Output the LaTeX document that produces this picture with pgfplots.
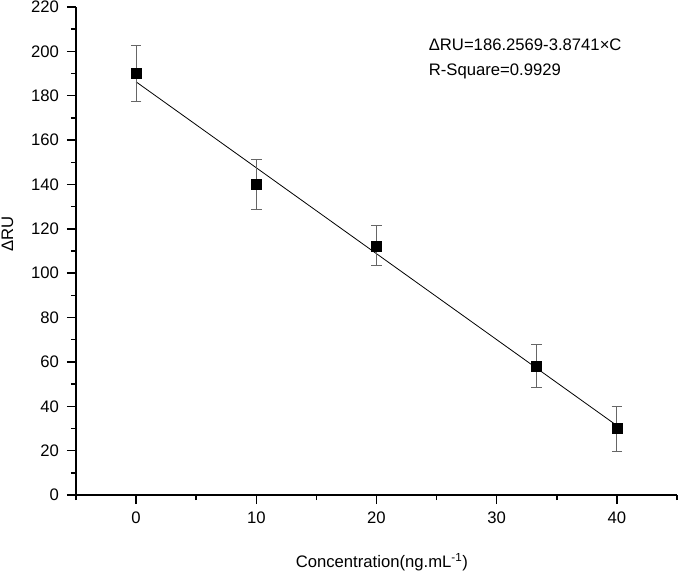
\documentclass[border=0pt]{standalone}
\usepackage{fontspec}
\setmainfont{Liberation Sans}
\usepackage{pgfplots}
\pgfplotsset{compat=1.18}

\begin{document}
\begin{tikzpicture}
\path[use as bounding box] (-57pt,-57pt) rectangle (451.5pt,371.25pt);
\begin{axis}[at={(0,0)},anchor=south west,scale only axis,width=450.75pt,height=366pt,
 xmin=-5,xmax=45,ymin=0,ymax=220,
 axis x line*=bottom,axis y line*=left,axis line style={-,line width=1.1pt},
 xtick={0,10,...,40},minor xtick={-5,5,...,45},
 ytick={0,20,...,220},minor ytick={10,30,...,210},
 tick align=outside,major tick length=6.75pt,minor tick length=3.75pt,
 tick style={black,line width=1.1pt},
 tick label style={font=\fontsize{12.5}{14}\selectfont},
 yticklabel style={xshift=-2.5pt},
 xticklabel style={yshift=-2.5pt},
 /pgf/number format/assume math mode=true,
 label style={font=\fontsize{12.5}{14}\selectfont},
 xlabel={Concentration(ng.mL\textsuperscript{-1})},
 ylabel={ΔRU},
 xlabel style={at={(axis description cs:0.509,-0.137)},anchor=center},
 ylabel style={at={(axis description cs:-0.114,0.535)},anchor=center},
 clip=false]
% linear fit
\addplot[black,line width=0.6pt] coordinates {(0,186.2569) (40,31.2929)};
% measured points with error bars
\addplot[only marks,mark=square*,mark size=3.75pt,black,
 error bars/.cd,y dir=both,y explicit,
 error bar style={black!60,line width=0.75pt},
 error mark options={rotate=90,mark size=4pt,black!60,line width=0.75pt}]
 table[x=c,y=ru,y error=e]{
c ru e
0 190.1 12.6
10 140.1 11.3
20 112.3 9.0
33.3 58.2 9.6
40 29.9 10.2
};
\node[anchor=west,inner sep=0pt,font=\fontsize{12.5}{14}\selectfont] at (axis cs:24.33,202.9) {ΔRU=186.2569-3.8741×C};
\node[anchor=west,inner sep=0pt,font=\fontsize{12.5}{14}\selectfont] at (axis cs:24.33,190.9) {R-Square=0.9929};
\end{axis}
\end{tikzpicture}
\end{document}
